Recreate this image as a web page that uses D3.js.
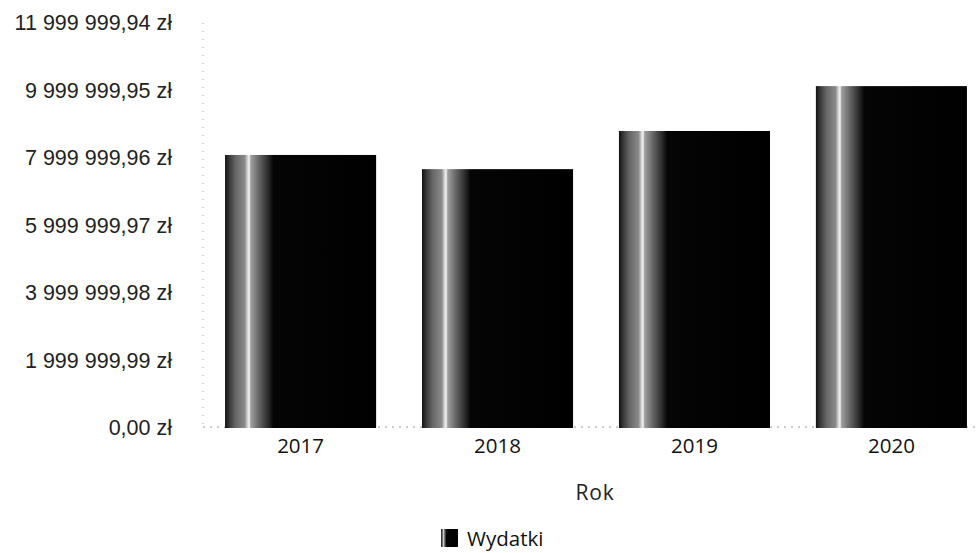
<!DOCTYPE html>
<html>
<head>
<meta charset="utf-8">
<script src="https://cdn.jsdelivr.net/npm/d3@7/dist/d3.min.js"></script>
<style>
  html, body { margin: 0; padding: 0; background: #fff; }
  svg { display: block; }
</style>
</head>
<body>
<svg id="chart" width="977" height="553"></svg>
<script>
// ---- data ----
const years = ["2017", "2018", "2019", "2020"];
const expenses = [8090000, 7670000, 8800000, 10130000];
const yTickValues = [0, 1999999.99, 3999999.98, 5999999.97, 7999999.96, 9999999.95, 11999999.94];
const seriesName = "Wydatki";
const xTitle = "Rok";

// ---- setup ----
const svg = d3.select("#chart");
const plot = { left: 203, right: 989, top: 23, bottom: 428 };

const pl = d3.formatLocale({ decimal: ",", thousands: "\u00a0", grouping: [3], currency: ["", " zł"] });
const fmt = v => pl.format(",.2f")(v).replace(/\u00a0/g, " ") + " zł";

const x = d3.scaleBand().domain(years).range([plot.left, plot.right])
  .paddingInner(0.233).paddingOuter(0.112);
const y = d3.scaleLinear().domain([0, 11999999.94]).range([plot.bottom, plot.top]);

// gradient imitating the scanned texture of the bars
const defs = svg.append("defs");
const grad = defs.append("linearGradient").attr("id", "barGrad")
  .attr("x1", "0").attr("x2", "1").attr("y1", "0").attr("y2", "0");
[[0, "#111"], [0.03, "#3a3a3a"], [0.07, "#666"], [0.13, "#8a8a8a"], [0.15, "#d8d8d8"], [0.16, "#f4f4f4"],
 [0.17, "#a0a0a0"], [0.22, "#6a6a6a"], [0.28, "#303030"], [0.32, "#050505"], [1, "#000"]]
  .forEach(([o, c]) => grad.append("stop").attr("offset", o).attr("stop-color", c));

// dotted axis lines
svg.append("line")
  .attr("x1", plot.left).attr("x2", plot.left)
  .attr("y1", y(11999999.94)).attr("y2", plot.bottom - 1)
  .attr("stroke", "#a8a8a8").attr("stroke-width", 1).attr("stroke-dasharray", "1,7");
svg.append("line")
  .attr("x1", plot.left).attr("x2", 978)
  .attr("y1", plot.bottom - 1).attr("y2", plot.bottom - 1)
  .attr("stroke", "#9a9a9a").attr("stroke-width", 1).attr("stroke-dasharray", "2,5");

// bars
svg.append("g").selectAll("rect").data(years).join("rect")
  .attr("x", d => x(d))
  .attr("width", x.bandwidth())
  .attr("y", (d, i) => y(expenses[i]))
  .attr("height", (d, i) => y(0) - y(expenses[i]))
  .attr("fill", "url(#barGrad)");

// y axis labels
const yAxis = d3.axisLeft(y).tickValues(yTickValues).tickFormat(fmt).tickSize(0).tickPadding(0);
const gy = svg.append("g").attr("transform", "translate(172,0)").call(yAxis);
gy.select(".domain").remove();
gy.selectAll("text")
  .attr("font-family", "'Liberation Sans', Arial, sans-serif")
  .attr("font-size", 21.5).attr("fill", "#222");

// x axis labels
const xAxis = d3.axisBottom(x).tickSize(0).tickPadding(0);
const gx = svg.append("g").attr("transform", `translate(0,${plot.bottom})`).call(xAxis);
gx.select(".domain").remove();
gx.selectAll("text")
  .attr("dy", null).attr("y", 25)
  .attr("font-family", "'Open Sans', sans-serif")
  .attr("font-size", 20.5).attr("fill", "#111");

// x title
svg.append("text")
  .attr("x", (plot.left + plot.right) / 2 - 1).attr("y", 500)
  .attr("text-anchor", "middle")
  .attr("font-family", "'Open Sans', sans-serif")
  .attr("font-size", 21).attr("letter-spacing", 0.8).attr("fill", "#222")
  .text(xTitle);

// legend
svg.append("rect").attr("x", 441).attr("y", 529).attr("width", 17).attr("height", 18)
  .attr("fill", "url(#barGrad)");
svg.append("text").attr("x", 467).attr("y", 546)
  .attr("font-family", "'Open Sans', sans-serif")
  .attr("font-size", 20.5).attr("fill", "#111")
  .text(seriesName);
</script>
</body>
</html>
